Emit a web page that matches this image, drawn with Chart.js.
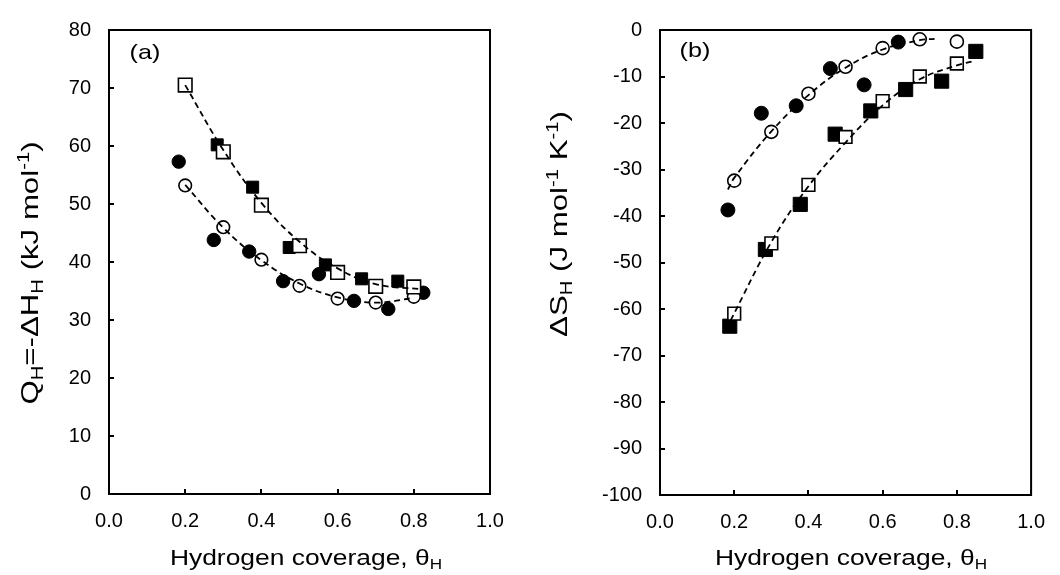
<!DOCTYPE html>
<html>
<head>
<meta charset="utf-8">
<script src="https://cdn.jsdelivr.net/npm/chart.js@4.4.1/dist/chart.umd.min.js"></script>
<style>
  html, body { margin: 0; padding: 0; background: #fff; }
  #wrap { position: relative; width: 1060px; height: 575px; }
  canvas { position: absolute; top: 0; }
</style>
</head>
<body>
<div id="wrap">
  <canvas id="chartA" width="530" height="575" style="left:0"></canvas>
  <canvas id="chartB" width="530" height="575" style="left:530px"></canvas>
</div>
<script>
// ---- panel (a): Q_H = -dH_H vs coverage ----
const thetaA_openSq = [0.2, 0.3, 0.4, 0.5, 0.6, 0.7, 0.8];
const qA_openSq = [70.5, 59.0, 49.8, 42.8, 38.2, 35.8, 35.7];
const thetaA_fillSq = [0.284, 0.377, 0.473, 0.568, 0.663, 0.758];
const qA_fillSq = [60.2, 52.9, 42.5, 39.5, 37.1, 36.7];
const thetaA_openCirc = [0.2, 0.3, 0.4, 0.5, 0.6, 0.7, 0.8];
const qA_openCirc = [53.2, 46.0, 40.4, 35.9, 33.7, 33.0, 34.0];
const thetaA_fillCirc = [0.183, 0.275, 0.368, 0.457, 0.551, 0.643, 0.733, 0.825];
const qA_fillCirc = [57.3, 43.8, 41.8, 36.7, 37.9, 33.3, 31.9, 34.7];
// dashed fits
const thetaA_fitSq = [0.2, 0.3, 0.4, 0.5, 0.6, 0.7, 0.82];
const qA_fitSq = [70.5, 59.3, 50.2, 43.5, 38.9, 36.2, 35.3];
const thetaA_fitCirc = [0.2, 0.3, 0.4, 0.5, 0.6, 0.7, 0.8];
const qA_fitCirc = [53.3, 45.9, 40.3, 36.3, 33.9, 33.0, 33.8];

// ---- panel (b): dS_H vs coverage ----
const thetaB_fillCirc = [0.183, 0.273, 0.367, 0.459, 0.550, 0.642];
const sB_fillCirc = [-38.7, -17.9, -16.3, -8.3, -11.8, -2.6];
const thetaB_openCirc = [0.2, 0.3, 0.4, 0.5, 0.6, 0.7, 0.8];
const sB_openCirc = [-32.4, -21.9, -13.7, -7.9, -3.9, -2.0, -2.5];
const thetaB_fillSq = [0.188, 0.284, 0.378, 0.472, 0.568, 0.662, 0.759, 0.851];
const sB_fillSq = [-63.7, -47.2, -37.5, -22.4, -17.4, -12.8, -11.0, -4.6];
const thetaB_openSq = [0.2, 0.3, 0.4, 0.5, 0.6, 0.7, 0.8];
const sB_openSq = [-61.0, -45.9, -33.3, -23.0, -15.3, -10.0, -7.2];
const thetaB_fitCirc = [0.183, 0.2, 0.3, 0.4, 0.5, 0.6, 0.7, 0.74];
const sB_fitCirc = [-34.3, -31.8, -21.8, -14.0, -8.1, -4.2, -2.2, -1.9];
const thetaB_fitSq = [0.19, 0.3, 0.4, 0.5, 0.6, 0.7, 0.8, 0.85];
const sB_fitSq = [-62.5, -45.6, -33.6, -24.2, -16.2, -10.6, -7.6, -6.6];

// axis titles (parts with sub/superscripts)
const xTitle = [{t: 'Hydrogen coverage, θ'}, {t: 'H', sub: true}];
const yTitleA = [{t: 'Q'}, {t: 'H', sub: true}, {t: '=-ΔH'}, {t: 'H', sub: true}, {t: ' (kJ mol'}, {t: '-1', sup: true}, {t: ')'}];
const yTitleB = [{t: 'ΔS'}, {t: 'H', sub: true}, {t: ' (J mol'}, {t: '-1', sup: true}, {t: ' K'}, {t: '-1', sup: true}, {t: ')'}];

const FONT = '"Liberation Sans", Arial, sans-serif';

function pts(xs, ys) { return xs.map((x, i) => ({x: x, y: ys[i]})); }

function drawRich(ctx, parts, size, stretch, cx, cy, rot) {
    ctx.save();
    ctx.translate(cx, cy);
    if (rot) ctx.rotate(rot);
    ctx.scale(stretch, 1);
    const runs = parts.map(p => {
        const small = p.sub || p.sup;
        const s = small ? size * 0.65 : size;
        const r = {t: p.t, font: s + 'px ' + FONT, dy: p.sub ? size * 0.2 : (p.sup ? -size * 0.38 : 0)};
        ctx.font = r.font;
        r.w = ctx.measureText(r.t).width;
        return r;
    });
    const total = runs.reduce((a, r) => a + r.w, 0);
    let x = -total / 2;
    ctx.fillStyle = '#000';
    ctx.textBaseline = 'alphabetic';
    runs.forEach(r => {
        ctx.font = r.font;
        ctx.fillText(r.t, x, r.dy);
        x += r.w;
    });
    ctx.restore();
}

// box frame + inward tick marks + titles
function framePlugin(opts) {
    return {
        id: 'frame',
        afterDraw(chart) {
            const ctx = chart.ctx, a = chart.chartArea;
            const xs = chart.scales.x, ys = chart.scales.y;
            ctx.save();
            ctx.strokeStyle = '#000';
            ctx.lineWidth = 2;
            ctx.strokeRect(a.left, a.top, a.right - a.left, a.bottom - a.top);
            ctx.beginPath();
            xs.ticks.forEach(t => {
                const px = Math.round(xs.getPixelForValue(t.value));
                ctx.moveTo(px, a.bottom); ctx.lineTo(px, a.bottom - 5);
            });
            ys.ticks.forEach(t => {
                const py = Math.round(ys.getPixelForValue(t.value));
                ctx.moveTo(a.left, py); ctx.lineTo(a.left + 5, py);
            });
            ctx.stroke();
            ctx.restore();

            drawRich(ctx, [{t: opts.tag}], 21, 1.2, opts.tagX, opts.tagY, 0);
            drawRich(ctx, xTitle, 22, 1.2, opts.xtX, 565, 0);
            drawRich(ctx, opts.yTitle, 24, 1.3, opts.ytX, opts.ytY, -Math.PI / 2);
        }
    };
}

function marker(label, data, style, radius, filled, order) {
    return {
        label: label,
        data: data,
        pointStyle: style,
        pointRadius: radius,
        pointHoverRadius: radius,
        pointBackgroundColor: filled ? '#000' : '#fff',
        pointBorderColor: '#000',
        pointBorderWidth: filled ? 1 : 1.6,
        showLine: false,
        order: order
    };
}

function fitLine(label, data) {
    return {
        label: label,
        data: data,
        showLine: true,
        pointRadius: 0,
        borderColor: '#000',
        borderWidth: 1.8,
        borderDash: [6, 4],
        tension: 0.4,
        fill: false,
        order: 0
    };
}

function makeChart(id, datasets, yMin, yMax, layout, plugOpts) {
    return new Chart(document.getElementById(id), {
        type: 'scatter',
        data: {datasets: datasets},
        options: {
            responsive: false,
            animation: false,
            devicePixelRatio: 1,
            layout: {padding: {top: layout.top, right: layout.right, left: 0, bottom: 0}},
            plugins: {legend: {display: false}, tooltip: {enabled: false}},
            scales: {
                x: {
                    type: 'linear', min: 0, max: 1,
                    grid: {display: false, drawTicks: false},
                    border: {display: false},
                    ticks: {
                        stepSize: 0.2, padding: 15, color: '#000',
                        font: {family: FONT, size: 20},
                        callback: v => Number(v).toFixed(1)
                    },
                    afterFit: s => { s.height = layout.xh; }
                },
                y: {
                    type: 'linear', min: yMin, max: yMax,
                    grid: {display: false, drawTicks: false},
                    border: {display: false},
                    ticks: {
                        stepSize: 10, padding: 18, color: '#000',
                        font: {family: FONT, size: 20},
                        callback: v => String(Math.round(v))
                    },
                    afterFit: s => { s.width = layout.yw; }
                }
            }
        },
        plugins: [framePlugin(plugOpts)]
    });
}

makeChart('chartA', [
    fitLine('fit squares', pts(thetaA_fitSq, qA_fitSq)),
    fitLine('fit circles', pts(thetaA_fitCirc, qA_fitCirc)),
    marker('open squares', pts(thetaA_openSq, qA_openSq), 'rect', 9.6, false, 1),
    marker('filled squares', pts(thetaA_fillSq, qA_fillSq), 'rect', 8.5, true, 2),
    marker('open circles', pts(thetaA_openCirc, qA_openCirc), 'circle', 6.3, false, 1),
    marker('filled circles', pts(thetaA_fillCirc, qA_fillCirc), 'circle', 6.7, true, 2)
], 0, 80, {top: 23, right: 40, xh: 81, yw: 109},
   {tag: '(a)', tagX: 145, tagY: 59, xtX: 306, yTitle: yTitleA, ytX: 38, ytY: 273});

makeChart('chartB', [
    fitLine('fit circles', pts(thetaB_fitCirc, sB_fitCirc)),
    fitLine('fit squares', pts(thetaB_fitSq, sB_fitSq)),
    marker('open circles', pts(thetaB_openCirc, sB_openCirc), 'circle', 6.5, false, 1),
    marker('filled circles', pts(thetaB_fillCirc, sB_fillCirc), 'circle', 7, true, 2),
    marker('open squares', pts(thetaB_openSq, sB_openSq), 'rect', 9, false, 1),
    marker('filled squares', pts(thetaB_fillSq, sB_fillSq), 'rect', 10, true, 2)
], -100, 0, {top: 20, right: 18, xh: 80, yw: 130},
   {tag: '(b)', tagX: 165, tagY: 57, xtX: 321, yTitle: yTitleB, ytX: 567 - 530, ytY: 224});
</script>
</body>
</html>
